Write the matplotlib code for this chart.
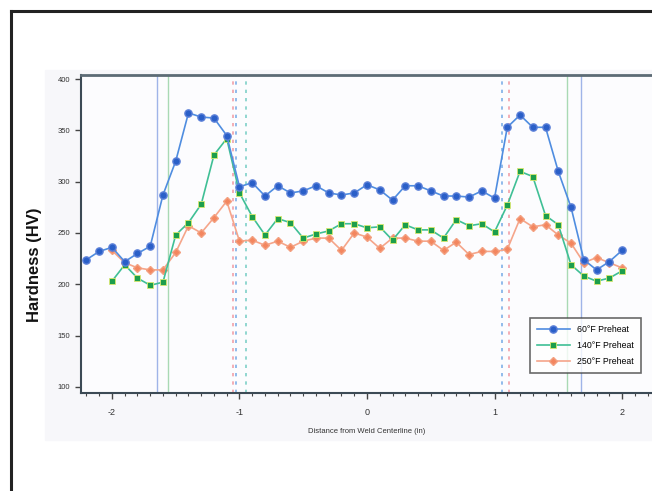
import numpy as np
import matplotlib
matplotlib.use("Agg")
import matplotlib.pyplot as plt
from matplotlib.patches import Rectangle
from matplotlib.lines import Line2D
from matplotlib.ticker import MultipleLocator

plt.rcParams['font.family'] = ['Liberation Sans', 'DejaVu Sans']
plt.rcParams['axes.unicode_minus'] = False

# hardness traverse, readings every 0.1 in
x_60 = np.round(np.arange(-2.2, 2.01, 0.1), 1)
hv_60 = [224, 232, 236, 222, 230, 237, 287, 320, 367, 363, 362, 345, 295, 299,
         286, 296, 289, 291, 296, 289, 287, 289, 297, 292, 282, 296, 296, 291,
         286, 286, 285, 291, 284, 353, 365, 353, 353, 310, 275, 224, 214, 222, 233]

x_140 = np.round(np.arange(-2.0, 2.01, 0.1), 1)
hv_140 = [203, 219, 206, 199, 202, 248, 260, 278, 326, 342, 289, 266, 248, 264,
          260, 245, 249, 252, 259, 259, 255, 256, 243, 258, 253, 253, 245, 263,
          257, 259, 251, 277, 310, 305, 267, 258, 219, 208, 203, 206, 213]

x_250 = np.round(np.arange(-2.0, 2.01, 0.1), 1)
hv_250 = [233, 221, 216, 214, 214, 231, 257, 250, 265, 281, 242, 243, 238, 242,
          236, 242, 245, 245, 233, 250, 246, 235, 245, 245, 242, 242, 233, 241,
          229, 232, 232, 234, 264, 256, 258, 248, 240, 221, 226, 221, 216]

# HAZ boundaries for each preheat
haz_solid = {'#9fb4e8': [-1.65, 1.68], '#a9d9b4': [-1.56, 1.57]}
haz_dotted = {'#f2a0a8': [-1.05, 1.11], '#7fb0e8': [-1.03, 1.06], '#7fd0c8': [-0.95]}

fig = plt.figure(figsize=(6.52, 4.91), dpi=100)

# light panel behind the chart
fig.patches.append(Rectangle((45 / 652, 1 - 440 / 491), 607 / 652, 370 / 491,
                             transform=fig.transFigure, color='#f7f7fa', zorder=-5))
# frame lines
fig.add_artist(Line2D([11 / 652, 11 / 652], [0, 1 - 11 / 491], transform=fig.transFigure,
                      color='#222222', lw=2.2))
fig.add_artist(Line2D([11 / 652, 1], [1 - 11 / 491, 1 - 11 / 491], transform=fig.transFigure,
                      color='#222222', lw=2.2))

ax = fig.add_axes([0.1238, 0.1996, 0.8762, 0.6477])
ax.set_zorder(2)
ax.set_facecolor('#fcfcfe')

for c, xs in haz_solid.items():
    for v in xs:
        ax.axvline(v, color=c, lw=1.0, zorder=1)
for c, xs in haz_dotted.items():
    for v in xs:
        ax.axvline(v, color=c, lw=1.2, ls=(0, (2, 3)), zorder=1)

ax.plot(x_250, hv_250, color='#f5a58a', lw=1.2, marker='D', ms=4.5,
        mfc='#f3865f', mec='#f3a080', label='250°F Preheat', zorder=3)
ax.plot(x_140, hv_140, color='#3fbf95', lw=1.2, marker='s', ms=5,
        mfc='#1c9e4c', mec='#d9e870', mew=0.6, label='140°F Preheat', zorder=4)
ax.plot(x_60, hv_60, color='#4f8de0', lw=1.2, marker='o', ms=5.2,
        mfc='#2a5fc8', mec='#5a7fd8', label='60°F Preheat', zorder=5)

ax.set_xlim(-2.245, 2.235)
ax.set_ylim(94, 404)
ax.xaxis.set_major_locator(MultipleLocator(1))
ax.xaxis.set_minor_locator(MultipleLocator(0.1))
ax.yaxis.set_major_locator(MultipleLocator(50))
ax.tick_params(axis='both', which='major', direction='out', length=4, width=1,
               color='#444444', labelsize=5.5, labelcolor='#333333')
ax.tick_params(axis='x', which='major', pad=7, labelsize=6.5)
ax.tick_params(axis='x', which='minor', direction='out', length=2.5, width=0.8,
               color='#444444')

ax.spines['right'].set_visible(False)
ax.spines['top'].set_color('#5c6b75')
ax.spines['top'].set_linewidth(2.0)
for s in ('left', 'bottom'):
    ax.spines[s].set_color('#3c4a55')
    ax.spines[s].set_linewidth(1.5)

ax.set_xlabel('Distance from Weld Centerline (in)', fontsize=5.5, color='#333333',
              labelpad=8)
fig.text(35 / 652, 1 - 265 / 491, 'Hardness (HV)', rotation=90, ha='center',
         va='center', fontsize=12, fontweight='bold', color='#111111')

handles, labels = ax.get_legend_handles_labels()
leg = ax.legend(handles[::-1], labels[::-1], loc='lower right',
                bbox_to_anchor=(0.988, 0.05), fontsize=6.3, frameon=True,
                fancybox=False, edgecolor='#444444', handlelength=3.8,
                labelspacing=0.8, borderpad=0.8)
leg.get_frame().set_linewidth(1.2)

fig.savefig('out.png', dpi=100)
